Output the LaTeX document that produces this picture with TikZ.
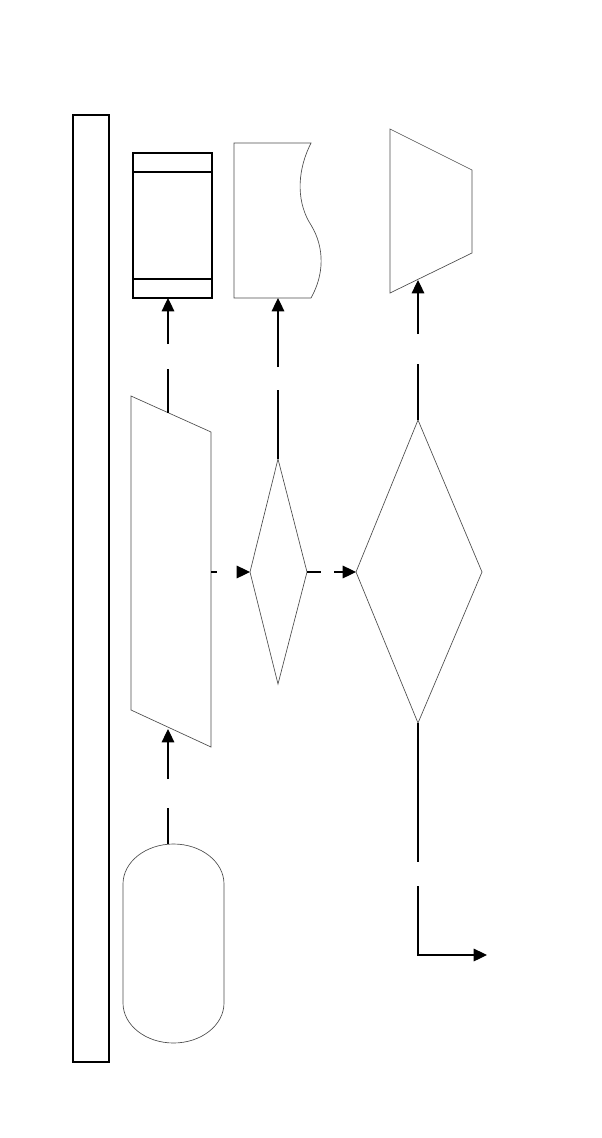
\documentclass[tikz,border=0pt]{standalone}
\usetikzlibrary{arrows.meta}
\begin{document}
\begin{tikzpicture}[x=0.75pt,y=-0.75pt,
  thinshape/.style={draw=black!70,line width=0.5pt,line join=miter},
  boldshape/.style={draw=black,line width=0.8pt},
  conn/.style={draw=black,line width=0.85pt},
  arr/.style={conn,-{Triangle[length=10pt,width=9.5pt]}}]
\useasboundingbox (0,0) rectangle (602,1138);
% left bar
\draw[boldshape] (73,115) rectangle (109,1062);
% banded box
\coordinate (bx-b) at (168,298);
\draw[boldshape] (133,153) rectangle (212,298);
\draw[boldshape] (133,172) -- (212,172);
\draw[boldshape] (133,279) -- (212,279);
% document shape
\coordinate (doc-b) at (278,298);
\draw[thinshape] (311,298) -- (234,298) -- (234,143) -- (311,143)
  .. controls (295,175) and (298,205) .. (311,225)
  .. controls (325,248) and (324,275) .. (311,298);
% trapezoid
\coordinate (tr-b) at (418,280);
\draw[thinshape] (390,129) -- (472,170) -- (472,253) -- (390,293) -- cycle;
% parallelogram
\coordinate (pg-t) at (168,413);
\coordinate (pg-r) at (211,572);
\coordinate (pg-b) at (168,729);
\draw[thinshape] (131,396) -- (211,432) -- (211,747) -- (131,710) -- cycle;
% diamond 1
\coordinate (d1-t) at (278,459);
\coordinate (d1-l) at (250,572);
\coordinate (d1-r) at (307,572);
\draw[thinshape] (278,459) -- (307,572) -- (278,684) -- (250,572) -- cycle;
% diamond 2
\coordinate (d2-t) at (418,420);
\coordinate (d2-l) at (356,572);
\coordinate (d2-b) at (418,723);
\draw[thinshape] (418,420) -- (482,572) -- (418,723) -- (356,572) -- cycle;
% terminator
\coordinate (tm-t) at (168,844);
\draw[thinshape] (123,884) arc[start angle=180,end angle=360,x radius=50.5,y radius=40]
  -- (224,1003) arc[start angle=0,end angle=180,x radius=50.5,y radius=40] -- cycle;
% gap coordinates
\coordinate (g1a) at (168,344); \coordinate (g1b) at (168,369);
\coordinate (g2a) at (278,367); \coordinate (g2b) at (278,390);
\coordinate (g3a) at (418,334); \coordinate (g3b) at (418,364);
\coordinate (g4a) at (168,779); \coordinate (g4b) at (168,808);
\coordinate (g5a) at (217,572); \coordinate (g5b) at (237,572);
\coordinate (g6a) at (321,572); \coordinate (g6b) at (334,572);
\coordinate (g7a) at (418,862); \coordinate (g7b) at (418,886);
\coordinate (corner) at (418,955);
\coordinate (out) at (487,955);
% connectors
\draw[conn] (pg-t) -- (g1b);
\draw[arr] (g1a) -- (bx-b);
\draw[conn] (d1-t) -- (g2b);
\draw[arr] (g2a) -- (doc-b);
\draw[conn] (d2-t) -- (g3b);
\draw[arr] (g3a) -- (tr-b);
\draw[conn] (tm-t) -- (g4b);
\draw[arr] (g4a) -- (pg-b);
\draw[conn] (pg-r) -- (g5a);
\draw[arr] (g5b) -- (d1-l);
\draw[conn] (d1-r) -- (g6a);
\draw[arr] (g6b) -- (d2-l);
\draw[conn] (d2-b) -- (g7a);
\draw[arr] (g7b) -- (corner) -- (out);
\end{tikzpicture}
\end{document}
